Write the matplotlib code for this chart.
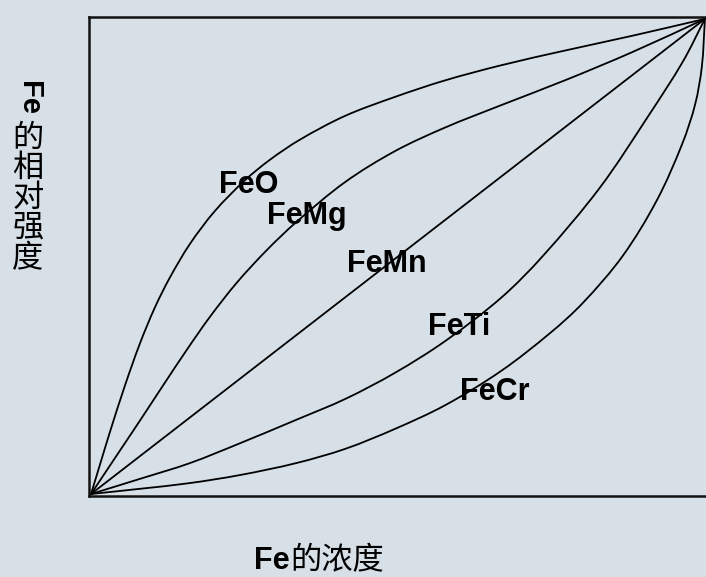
import matplotlib
matplotlib.use("Agg")
import matplotlib.pyplot as plt
import numpy as np
from matplotlib.path import Path
from matplotlib.patches import PathPatch

# curves (x = Fe concentration, y = relative intensity)
feo_x = [0, 0.0147, 0.0309, 0.0554, 0.0798, 0.1042, 0.1287, 0.1612, 0.2020, 0.2508, 0.2915,
         0.3404, 0.4137, 0.4951, 0.5765, 0.6678, 0.7752, 0.8827, 1.0]
feo_y = [0, 0.0625, 0.1309, 0.2288, 0.3173, 0.3931, 0.4562, 0.5265, 0.5960, 0.6604, 0.7036,
         0.7459, 0.7958, 0.8358, 0.8705, 0.9023, 0.9343, 0.9648, 1.0]

femg_x = [0, 0.0195, 0.0472, 0.0798, 0.1173, 0.1564, 0.1938, 0.2378, 0.2866, 0.3339, 0.4137,
          0.4951, 0.5765, 0.6678, 0.7752, 0.8827, 1.0]
femg_y = [0, 0.0379, 0.0916, 0.1547, 0.2284, 0.3042, 0.3731, 0.4453, 0.5137, 0.5718, 0.6564,
          0.7217, 0.7712, 0.8183, 0.8724, 0.9307, 1.0]

femn_x = [0, 0.5, 1.0]
femn_y = [0, 0.5, 1.0]

feti_x = [0, 0.080, 0.161, 0.243, 0.334, 0.414, 0.495, 0.577, 0.668, 0.736, 0.829, 0.910, 0.964, 1.0]
feti_y = [0, 0.032, 0.065, 0.107, 0.156, 0.200, 0.255, 0.322, 0.413, 0.501, 0.645, 0.800, 0.910, 1.0]

fecr_x = [0, 0.080, 0.161, 0.243, 0.334, 0.414, 0.495, 0.577, 0.668, 0.748, 0.801, 0.866, 0.922, 0.963, 0.984, 0.995, 1.0]
fecr_y = [0, 0.011, 0.023, 0.040, 0.065, 0.095, 0.137, 0.187, 0.259, 0.339, 0.402, 0.501, 0.619, 0.737, 0.820, 0.900, 1.0]

names = ["FeO", "FeMg", "FeMn", "FeTi", "FeCr"]
curves = [(feo_x, feo_y), (femg_x, femg_y), (femn_x, femn_y), (feti_x, feti_y), (fecr_x, fecr_y)]

# where each name sits (data coords, left/baseline)
label_pos = [(0.208, 0.634), (0.287, 0.568), (0.417, 0.467), (0.549, 0.335), (0.601, 0.198)]


def smooth_path(x, y):
    # bezier path through the read points (chord-length hermite tangents)
    p = np.column_stack([x, y]).astype(float)
    d = np.hypot(*np.diff(p, axis=0).T)
    t = np.concatenate([[0], np.cumsum(d)])
    m = np.zeros_like(p)
    m[0] = (p[1] - p[0]) / (t[1] - t[0])
    m[-1] = (p[-1] - p[-2]) / (t[-1] - t[-2])
    for i in range(1, len(p) - 1):
        m[i] = (p[i + 1] - p[i - 1]) / (t[i + 1] - t[i - 1])
    verts = [p[0]]
    codes = [Path.MOVETO]
    for i in range(len(p) - 1):
        h = t[i + 1] - t[i]
        verts += [p[i] + m[i] * h / 3, p[i + 1] - m[i + 1] * h / 3, p[i + 1]]
        codes += [Path.CURVE4] * 3
    return Path(verts, codes)


bg = "#D7E0E7"
W, H = 706, 577
fig = plt.figure(figsize=(W / 100, H / 100), dpi=100, facecolor=bg)

# axes box in pixels: left 89, right 708, top 17, bottom 496
ax = fig.add_axes([89 / W, (H - 496) / H, (708 - 89) / W, (496 - 17) / H])
ax.set_facecolor(bg)
ax.set_xlim(-0.0033, 1.005)
ax.set_ylim(-0.0042, 1.004)
ax.set_xticks([])
ax.set_yticks([])
for sp in ax.spines.values():
    sp.set_linewidth(1.8)
    sp.set_color("#111111")

for (x, y) in curves:
    ax.add_patch(PathPatch(smooth_path(x, y), fill=False, edgecolor="black",
                           lw=1.3, capstyle="round", joinstyle="round", clip_on=False))

for name, (lx, ly) in zip(names, label_pos):
    ax.text(lx, ly, name, fontsize=22, fontweight="bold", family="Liberation Sans",
            ha="left", va="baseline")

# x label: "Fe" bold + Chinese
fig.text(290 / W, 1 - 569 / H, "Fe", fontsize=22, fontweight="bold",
         family="Liberation Sans", ha="right", va="baseline")
fig.text(290 / W, 1 - 569 / H, "的浓度", fontsize=22.5, family="Noto Sans CJK SC",
         ha="left", va="baseline")

# y label: vertical, "Fe" turned, Chinese upright
fig.text(29 / W, 1 - 98 / H, "Fe", fontsize=21, fontweight="bold",
         family="Liberation Sans", rotation=-90, ha="center", va="center")
for i, ch in enumerate("的相对强度"):
    fig.text(28 / W, 1 - (138 + 30 * i) / H, ch, fontsize=22.5,
             family="Noto Sans CJK SC", ha="center", va="center")

fig.savefig("out.png", dpi=100, facecolor=bg)
